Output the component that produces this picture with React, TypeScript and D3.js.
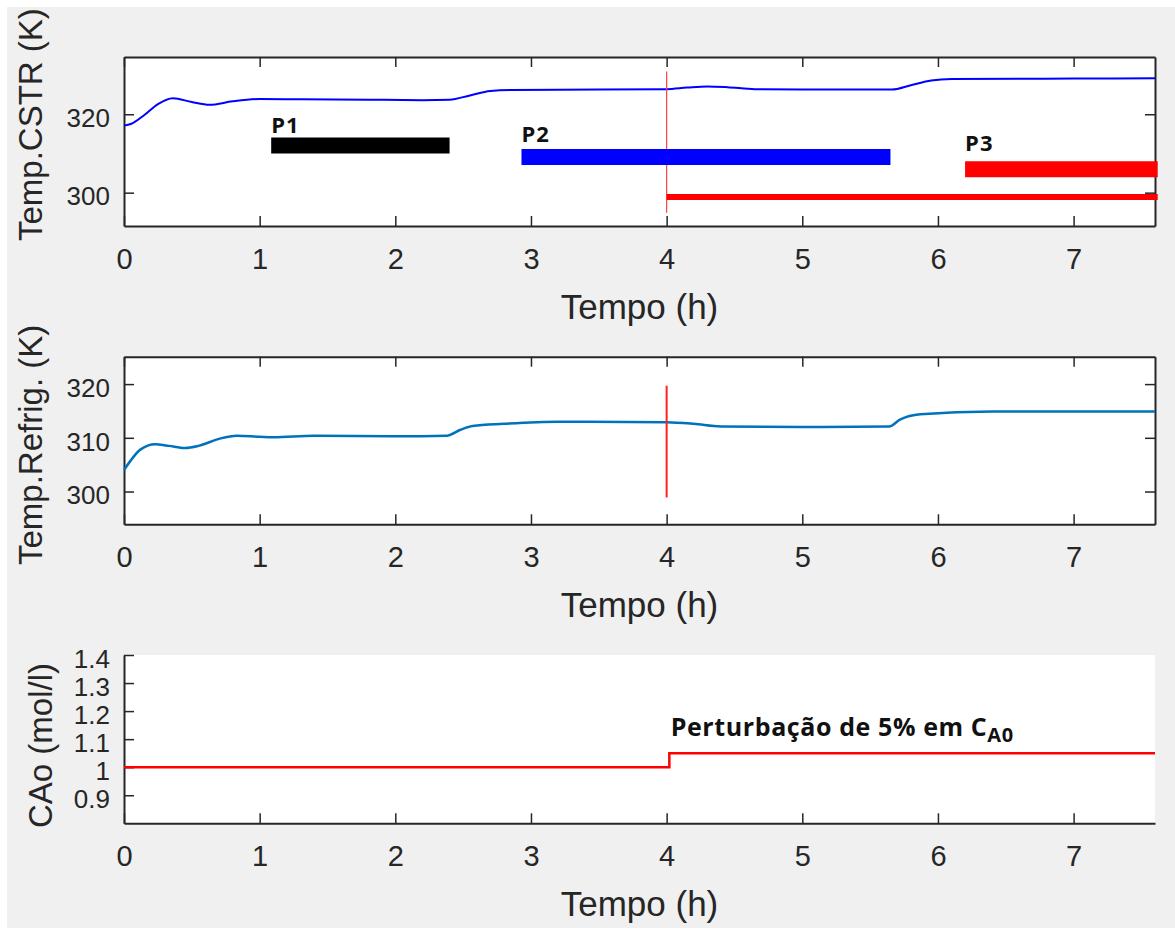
import React, { useEffect, useRef } from "react";
import * as d3 from "d3";

// tick values
const xTicks = [0, 1, 2, 3, 4, 5, 6, 7];
const topTicks = [300, 320];
const midTicks = [300, 310, 320];
const botTicks = [0.9, 1, 1.1, 1.2, 1.3, 1.4];

// reactor temperature (h, K)
const tempCstr: [number, number][] = [
  [0, 317.1], [0.05, 317.5], [0.15, 319.8], [0.25, 322.6], [0.36, 324.1],
  [0.5, 323.1], [0.63, 322.4], [0.8, 323.3], [1.0, 323.9], [1.3, 323.8],
  [1.8, 323.7], [2.2, 323.6], [2.4, 323.7], [2.55, 324.8], [2.7, 325.9],
  [2.85, 326.2], [3.5, 326.3], [4.0, 326.4], [4.15, 326.8], [4.3, 327.1],
  [4.45, 326.9], [4.65, 326.4], [5.0, 326.3], [5.66, 326.3], [5.8, 327.4],
  [5.95, 328.6], [6.1, 329.0], [7.0, 329.1], [7.6, 329.2],
];

// coolant temperature (h, K)
const tempRefrig: [number, number][] = [
  [0, 304.0], [0.05, 305.8], [0.12, 307.8], [0.23, 308.8], [0.33, 308.5],
  [0.45, 308.1], [0.55, 308.5], [0.7, 309.8], [0.83, 310.4], [1.0, 310.2],
  [1.1, 310.1], [1.4, 310.4], [2.0, 310.3], [2.38, 310.4], [2.48, 311.5],
  [2.57, 312.2], [2.8, 312.6], [3.2, 313.0], [4.0, 312.9], [4.2, 312.6],
  [4.4, 312.1], [5.0, 312.0], [5.64, 312.1], [5.72, 313.4], [5.87, 314.4],
  [6.4, 314.9], [7.6, 314.9],
];

// feed concentration (h, mol/l)
const cao: [number, number][] = [[0, 1.0], [4.02, 1.05], [7.6, 1.05]];

const periods = [
  { label: "P1", start: 1.085, end: 2.4, level: 312.0, labelLevel: 315.3, color: "#000000" },
  { label: "P2", start: 2.93, end: 5.65, level: 309.1, labelLevel: 313.0, color: "#0000ff" },
  { label: "P3", start: 6.2, end: 7.62, level: 306.0, labelLevel: 310.6, color: "#ff0000" },
];
const disturbSpan = { start: 4.0, end: 7.62, level: 298.9 };
const markerTop = { t: 4, from: 294.9, to: 330.9 };
const markerMid = { t: 4, from: 298.9, to: 319.7 };
const note = { t: 4.03, level: 1.112 };

const W = 1175;
const H = 930;
const axisFont = "'Liberation Sans', Arial, sans-serif";
const noteFont = "'Open Sans', Lato, sans-serif";
const ink = "#262626";

const App = () => {
  const ref = useRef<SVGSVGElement>(null);

  useEffect(() => {
    const svg = d3.select(ref.current);
    svg.selectAll("*").remove();

    svg.append("rect").attr("x", 7).attr("y", 7).attr("width", W - 7).attr("height", 921).attr("fill", "#f0f0f0");

    const x = d3.scaleLinear().domain([0, 7.6]).range([124, 1155]);

    const panel = (
      y: d3.ScaleLinear<number, number>,
      ticks: number[],
      box: boolean,
      ylabel: string,
      ylabelX: number,
      ylabelStart: number
    ) => {
      const [y0, y1] = y.range();
      const g = svg.append("g");
      g.append("rect")
        .attr("x", x(0)).attr("y", y1)
        .attr("width", x(7.6) - x(0)).attr("height", y0 - y1)
        .attr("fill", "#fff");

      const bottom = g.append("g")
        .attr("transform", `translate(0,${y0})`)
        .call(d3.axisBottom(x).tickValues(xTicks).tickSizeInner(-10).tickSizeOuter(0).tickPadding(22));
      bottom.selectAll("text").attr("font-size", 29);

      const left = g.append("g")
        .attr("transform", `translate(${x(0)},0)`)
        .call(d3.axisLeft(y).tickValues(ticks).tickFormat(d => String(d)).tickSizeInner(-10).tickSizeOuter(0).tickPadding(14));
      left.selectAll("text").attr("font-size", 26).attr("transform", "translate(0,4)");

      if (box) {
        g.append("g")
          .attr("transform", `translate(0,${y1})`)
          .call(d3.axisTop(x).tickValues(xTicks).tickFormat(() => "").tickSizeInner(-10).tickSizeOuter(0));
        g.append("g")
          .attr("transform", `translate(${x(7.6)},0)`)
          .call(d3.axisRight(y).tickValues(ticks).tickFormat(() => "").tickSizeInner(-10).tickSizeOuter(0));
      }

      g.selectAll(".domain").attr("stroke", ink).attr("stroke-width", 2);
      g.selectAll(".tick line").attr("stroke", ink).attr("stroke-width", 1.5);
      g.selectAll(".tick text").attr("fill", ink).attr("font-family", axisFont);

      g.append("text")
        .attr("x", (x(0) + x(7.6)) / 2).attr("y", y0 + 93)
        .attr("text-anchor", "middle")
        .attr("font-family", axisFont).attr("font-size", 35).attr("fill", ink)
        .text("Tempo (h)");

      g.append("text")
        .attr("transform", `translate(${ylabelX},${ylabelStart}) rotate(-90)`)
        .attr("font-family", axisFont).attr("font-size", 33).attr("fill", ink)
        .text(ylabel);
      return g;
    };

    const line = (y: d3.ScaleLinear<number, number>, curve: d3.CurveFactory) =>
      d3.line<[number, number]>().x(d => x(d[0])).y(d => y(d[1])).curve(curve);

    // ---- top: reactor temperature
    const yTop = d3.scaleLinear().domain([291.5, 334.6]).range([226, 57]);
    const gTop = panel(yTop, topTicks, true, "Temp.CSTR (K)", 42, 241);

    gTop.append("path").datum(tempCstr)
      .attr("d", line(yTop, d3.curveMonotoneX))
      .attr("fill", "none").attr("stroke", "#0000ff").attr("stroke-width", 2);

    gTop.append("line")
      .attr("x1", x(markerTop.t)).attr("x2", x(markerTop.t))
      .attr("y1", yTop(markerTop.from)).attr("y2", yTop(markerTop.to))
      .attr("stroke", "#ff4040").attr("stroke-width", 1.2);

    gTop.append("line")
      .attr("x1", x(disturbSpan.start)).attr("x2", x(disturbSpan.end))
      .attr("y1", yTop(disturbSpan.level)).attr("y2", yTop(disturbSpan.level))
      .attr("stroke", "#ff0000").attr("stroke-width", 6);

    periods.forEach(p => {
      gTop.append("line")
        .attr("x1", x(p.start)).attr("x2", x(p.end))
        .attr("y1", yTop(p.level)).attr("y2", yTop(p.level))
        .attr("stroke", p.color).attr("stroke-width", 16);
      gTop.append("text")
        .attr("x", x(p.start)).attr("y", yTop(p.labelLevel))
        .attr("font-family", noteFont).attr("font-weight", 700).attr("font-size", 22)
        .attr("letter-spacing", 1)
        .attr("fill", "#111")
        .text(p.label);
    });

    // ---- middle: coolant temperature
    const yMid = d3.scaleLinear().domain([293.9, 325.1]).range([524.3, 356.7]);
    const gMid = panel(yMid, midTicks, true, "Temp.Refrig. (K)", 42, 565);

    gMid.append("path").datum(tempRefrig)
      .attr("d", line(yMid, d3.curveMonotoneX))
      .attr("fill", "none").attr("stroke", "#0072bd").attr("stroke-width", 2.5);

    gMid.append("line")
      .attr("x1", x(markerMid.t)).attr("x2", x(markerMid.t))
      .attr("y1", yMid(markerMid.from)).attr("y2", yMid(markerMid.to))
      .attr("stroke", "#ff2020").attr("stroke-width", 2);

    // ---- bottom: feed concentration
    const yBot = d3.scaleLinear().domain([0.8, 1.4]).range([823.3, 655]);
    const gBot = panel(yBot, botTicks, false, "CAo (mol/l)", 52, 828);

    gBot.append("path").datum(cao)
      .attr("d", line(yBot, d3.curveStepAfter))
      .attr("fill", "none").attr("stroke", "#ff0000").attr("stroke-width", 2.5);

    const t = gBot.append("text")
      .attr("x", x(note.t)).attr("y", yBot(note.level))
      .attr("font-family", noteFont).attr("font-weight", 700).attr("font-size", 25)
      .attr("letter-spacing", 0.6)
      .attr("fill", "#111");
    t.append("tspan").text("Perturbação de 5% em C");
    t.append("tspan").attr("dy", 6).attr("font-size", 20).text("A0");
  }, []);

  return (
    <svg ref={ref} width={W} height={H} style={{ position: "absolute", left: 0, top: 0, background: "#fff" }} />
  );
};

export default App;
